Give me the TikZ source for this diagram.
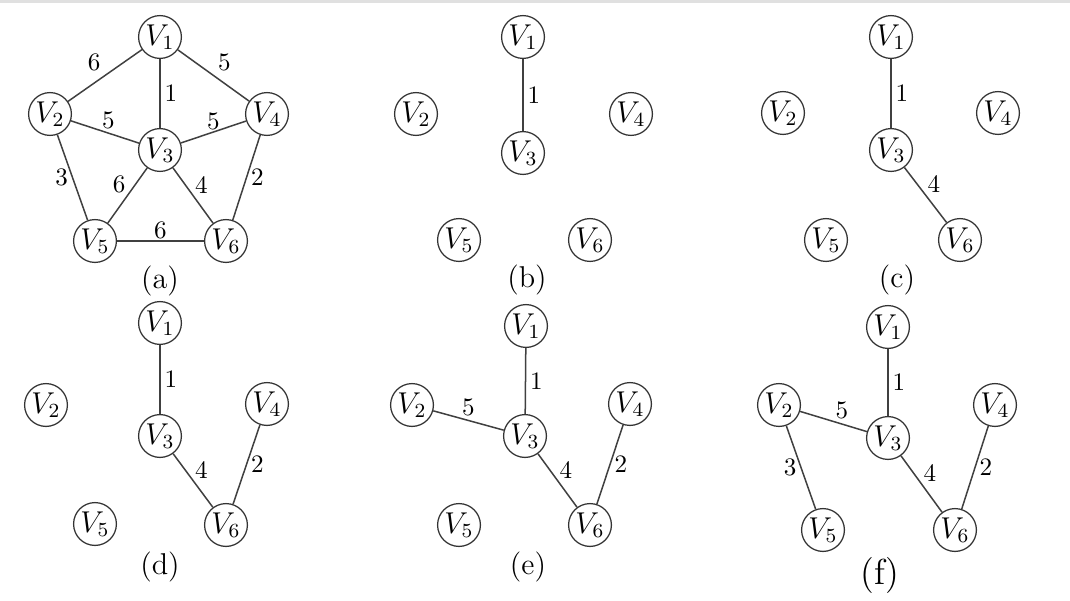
\documentclass[tikz,border=0pt]{standalone}
\usepackage{amsmath,amssymb}
\usepackage{tikz}

\begin{document}
\begin{tikzpicture}[x=0.014cm,y=-0.014cm,
    vtx/.style={draw=black!80,circle,minimum size=0.6cm,inner sep=0pt,line width=0.5pt,font=\large},
    wt/.style={font=\normalsize,inner sep=1.5pt},
    edg/.style={draw=black!75,line width=0.6pt},
    capn/.style={font=\large}]
  \useasboundingbox (0,0) rectangle (1070,601);
  \draw[black!12,line width=1.2pt] (0,1) -- (1070,1);
  % (a) the whole graph
  \foreach \n/\x/\y in {1/160/37,2/50/114,3/160/150,4/267/114,5/95/241,6/226/241}
    \node[vtx] (a\n) at (\x,\y) {$V_\n$};
  \draw[edg] (a1) -- node[wt,above left] {6} (a2);
  \draw[edg] (a1) -- node[wt,above right] {5} (a4);
  \draw[edg] (a1) -- node[wt,right] {1} (a3);
  \draw[edg] (a2) -- node[wt,above,pos=0.55] {5} (a3);
  \draw[edg] (a3) -- node[wt,above,inner sep=0.5pt] {5} (a4);
  \draw[edg] (a2) -- node[wt,left] {3} (a5);
  \draw[edg] (a3) -- node[wt,above left,inner sep=0.5pt] {6} (a5);
  \draw[edg] (a3) -- node[wt,above right,inner sep=0.5pt] {4} (a6);
  \draw[edg] (a4) -- node[wt,right] {2} (a6);
  \draw[edg] (a5) -- node[wt,above,inner sep=0.5pt] {6} (a6);
  \node[capn] (capa) at (160,281) {(a)};
  % (b)
  \foreach \n/\x/\y in {1/523/37,2/416/114,3/523/153,4/631/114,5/459/240,6/590/240}
    \node[vtx] (b\n) at (\x,\y) {$V_\n$};
  \draw[edg] (b1) -- node[wt,right] {1} (b3);
  \node[capn] (capb) at (527,280) {(b)};
  % (c)
  \foreach \n/\x/\y in {1/891/37,2/783/113,3/891/150,4/998/113,5/826/240,6/960/240}
    \node[vtx] (c\n) at (\x,\y) {$V_\n$};
  \draw[edg] (c1) -- node[wt,right] {1} (c3);
  \draw[edg] (c3) -- node[wt,above right,inner sep=0.5pt] {4} (c6);
  \node[capn] (capc) at (897,280) {(c)};
  % (d)
  \foreach \n/\x/\y in {1/160/323,2/46/405,3/160/436,4/267/404,5/95/524,6/226/525}
    \node[vtx] (d\n) at (\x,\y) {$V_\n$};
  \draw[edg] (d1) -- node[wt,right] {1} (d3);
  \draw[edg] (d3) -- node[wt,above right,inner sep=0.5pt] {4} (d6);
  \draw[edg] (d4) -- node[wt,right] {2} (d6);
  \node[capn] (capd) at (160,567) {(d)};
  % (e)
  \foreach \n/\x/\y in {1/526/326,2/412/405,3/525/436,4/630/404,5/459/525,6/590/525}
    \node[vtx] (e\n) at (\x,\y) {$V_\n$};
  \draw[edg] (e1) -- node[wt,right] {1} (e3);
  \draw[edg] (e2) -- node[wt,above] {5} (e3);
  \draw[edg] (e3) -- node[wt,above right,inner sep=0.5pt] {4} (e6);
  \draw[edg] (e4) -- node[wt,right] {2} (e6);
  \node[capn] (cape) at (528,567) {(e)};
  % (f) the spanning tree
  \foreach \n/\x/\y in {1/888/327,2/779/405,3/888/438,4/995/405,5/823/530,6/955/530}
    \node[vtx] (f\n) at (\x,\y) {$V_\n$};
  \draw[edg] (f1) -- node[wt,right] {1} (f3);
  \draw[edg] (f2) -- node[wt,above right,inner sep=0.5pt] {5} (f3);
  \draw[edg] (f2) -- node[wt,left] {3} (f5);
  \draw[edg] (f3) -- node[wt,above right,inner sep=0.5pt] {4} (f6);
  \draw[edg] (f4) -- node[wt,right] {2} (f6);
  \node[font=\Large] (capf) at (880,575) {(f)};
\end{tikzpicture}
\end{document}
